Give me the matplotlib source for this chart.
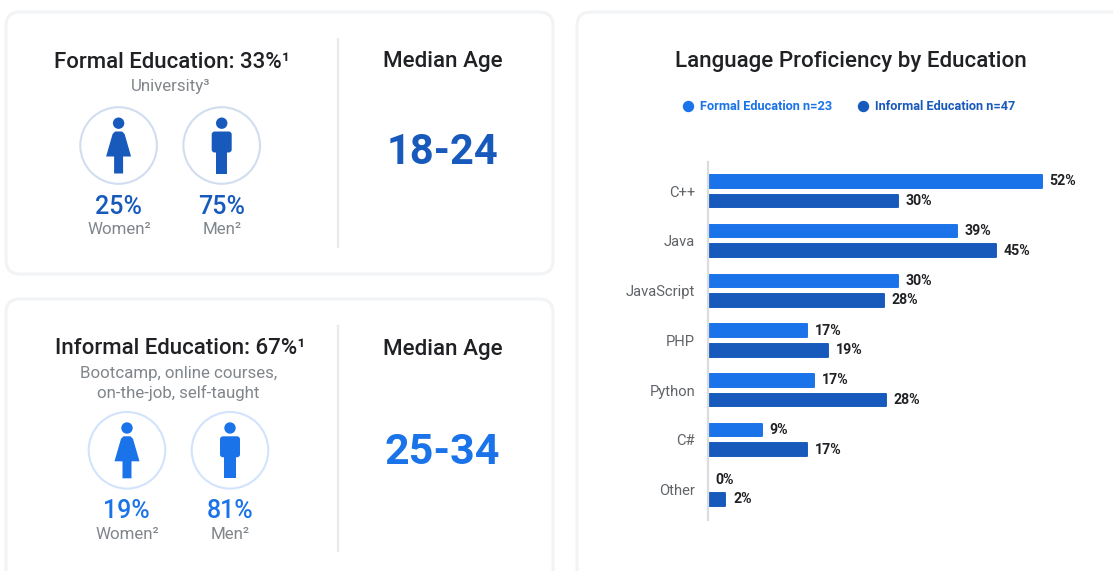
import matplotlib
matplotlib.use("Agg")
import matplotlib.pyplot as plt
from matplotlib.lines import Line2D
from matplotlib.patches import FancyBboxPatch, Circle, Polygon, Rectangle

plt.rcParams['font.family'] = ['Roboto', 'DejaVu Sans']

W, H = 1113, 571
languages = ["C++", "Java", "JavaScript", "PHP", "Python", "C#", "Other"]
# bar lengths as drawn in the picture
formal = [52.1, 38.9, 29.7, 15.5, 16.6, 8.5, 0]
informal = [29.7, 45.0, 27.5, 18.75, 27.8, 15.5, 2.8]
# percentages as printed next to the bars
formal_labels = ["52%", "39%", "30%", "17%", "17%", "9%", "0%"]
informal_labels = ["30%", "45%", "28%", "19%", "28%", "17%", "2%"]
DARK, BLUE, GREY, INK = "#185abc", "#1a73e8", "#80868b", "#202124"

fig = plt.figure(figsize=(W / 100, H / 100), dpi=100, facecolor="white")
bg = fig.add_axes([0, 0, 1, 1])
bg.set_xlim(0, W); bg.set_ylim(H, 0); bg.axis("off")


def card(x0, y0, x1, y1):
    bg.add_patch(FancyBboxPatch((x0 + 14, y0 + 14), x1 - x0 - 28, y1 - y0 - 28,
                                boxstyle="round,pad=14,rounding_size=14",
                                fc="white", ec="#f1f3f4", lw=2.2))


card(6, 12, 553, 274)
card(6, 299, 553, 640)
card(577, 12, 1180, 640)


def person(cx, cy, kind, color, ring):
    bg.add_patch(Circle((cx, cy), 38.3, fc="white", ec=ring, lw=1.5))
    bg.add_patch(Circle((cx, cy - 22.3), 5.7, fc=color, ec="none"))
    if kind == "w":
        bg.add_patch(Polygon([(cx - 3.5, cy - 14), (cx + 3.5, cy - 14), (cx + 6, cy - 11.5),
                              (cx + 12.5, cy + 11), (cx + 4.5, cy + 11), (cx + 4.5, cy + 28),
                              (cx - 4.5, cy + 28), (cx - 4.5, cy + 11), (cx - 12.5, cy + 11),
                              (cx - 6, cy - 11.5)], fc=color, ec="none"))
    else:
        bg.add_patch(FancyBboxPatch((cx - 7, cy - 11), 14, 15, boxstyle="round,pad=3,rounding_size=3",
                                    fc=color, ec="none"))
        bg.add_patch(Rectangle((cx - 5.8, cy + 5), 11.6, 23, fc=color, ec="none"))


def t(x, y, s, size, color, weight="normal", ha="center"):
    bg.text(x, y + 1.5, s, fontsize=size, color=color, fontweight=weight, ha=ha, va="center")


# top-left card
t(171.5, 60.5, "Formal Education: 33%¹", 16, INK, "medium")
t(170.5, 85.5, "University³", 12.2, GREY)
person(118.6, 145.5, "w", DARK, "#d0deef")
person(221.7, 145.5, "m", DARK, "#d0deef")
t(118.6, 205, "25%", 18, DARK, "medium")
t(222, 205, "75%", 18, DARK, "medium")
t(119, 228.5, "Women²", 12.2, GREY)
t(222, 228.5, "Men²", 12.2, GREY)
bg.plot([337.5, 337.5], [39, 247], color="#e8eaed", lw=1.6)
t(442.5, 60.5, "Median Age", 16.1, INK, "medium")
t(442.5, 151, "18-24", 30, DARK, "bold")

# bottom-left card
t(180, 347.5, "Informal Education: 67%¹", 16, INK, "medium")
t(178.5, 372, "Bootcamp, online courses,", 12.2, GREY)
t(178.5, 391, "on-the-job, self-taught", 12.2, GREY)
person(127, 450.3, "w", BLUE, "#d2e3fc")
person(230, 450.3, "m", BLUE, "#d2e3fc")
t(126.5, 509.5, "19%", 18, BLUE, "medium")
t(230.5, 509.5, "81%", 18, BLUE, "medium")
t(127, 533, "Women²", 12.2, GREY)
t(230, 533, "Men²", 12.2, GREY)
bg.plot([337.5, 337.5], [326, 551], color="#e8eaed", lw=1.6)
t(442.5, 347.5, "Median Age", 16.1, INK, "medium")
t(442.5, 451.5, "25-34", 31, BLUE, "bold")

# right card
t(851, 60.5, "Language Proficiency by Education", 16.1, INK, "medium")

# bar chart: axes spans x 708.4..1100 px, y 162..520 px
left, right, top, bottom = 708.4, 1100, 162, 520
pxu, row0, rowh = 6.42, 191.2, 49.75
ax = fig.add_axes([left / W, 1 - bottom / H, (right - left) / W, (bottom - top) / H])
ax.patch.set_alpha(0)
ypos = list(range(len(languages)))
off, bh = 9.8 / rowh, 14.6 / rowh
b1 = ax.barh([y - off for y in ypos], formal, height=bh, color=BLUE, label="Formal Education n=23")
b2 = ax.barh([y + off for y in ypos], informal, height=bh, color=DARK, label="Informal Education n=47")
ax.set_xlim(0, (right - left) / pxu)
ax.set_ylim((bottom - row0) / rowh, (top - row0) / rowh)
ax.set_yticks(ypos, languages)
ax.set_xticks([])
ax.tick_params(axis="y", length=0, pad=9.5, labelsize=10.6, labelcolor="#5f6368")
for s in ("top", "right", "bottom"):
    ax.spines[s].set_visible(False)
ax.spines["left"].set_color("#dadce0")
ax.spines["left"].set_linewidth(1.6)
ax.spines["left"].set_zorder(5)
for b, labs in ((b1, formal_labels), (b2, informal_labels)):
    ax.bar_label(b, labels=labs, padding=4.8, fontsize=10.2, fontweight="bold", color=INK)
    # rounded bar ends: a round-joined edge, with the rectangle inset by the edge's half width
    for r in b:
        if r.get_width() > 0:
            r.set(edgecolor=r.get_facecolor(), linewidth=1.4, joinstyle="round")
            r.set_width(r.get_width() - 1 / pxu)
            r.set_height(r.get_height() - 2 / rowh)
            r.set_y(r.get_y() + 1 / rowh)
ax.legend(handles=[Line2D([], [], ls="", marker="o", ms=7.2, color=BLUE, label=b1.get_label()),
                   Line2D([], [], ls="", marker="o", ms=7.2, color=DARK, label=b2.get_label())],
          loc="center left", bbox_to_anchor=(671 / W, 1 - 107 / H), bbox_transform=fig.transFigure,
          ncols=2, frameon=False, labelcolor=[BLUE, DARK], handlelength=0.8,
          prop={"size": 9.2, "weight": "bold"}, columnspacing=2.05, handletextpad=0.55)

fig.savefig("out.png", dpi=100)
